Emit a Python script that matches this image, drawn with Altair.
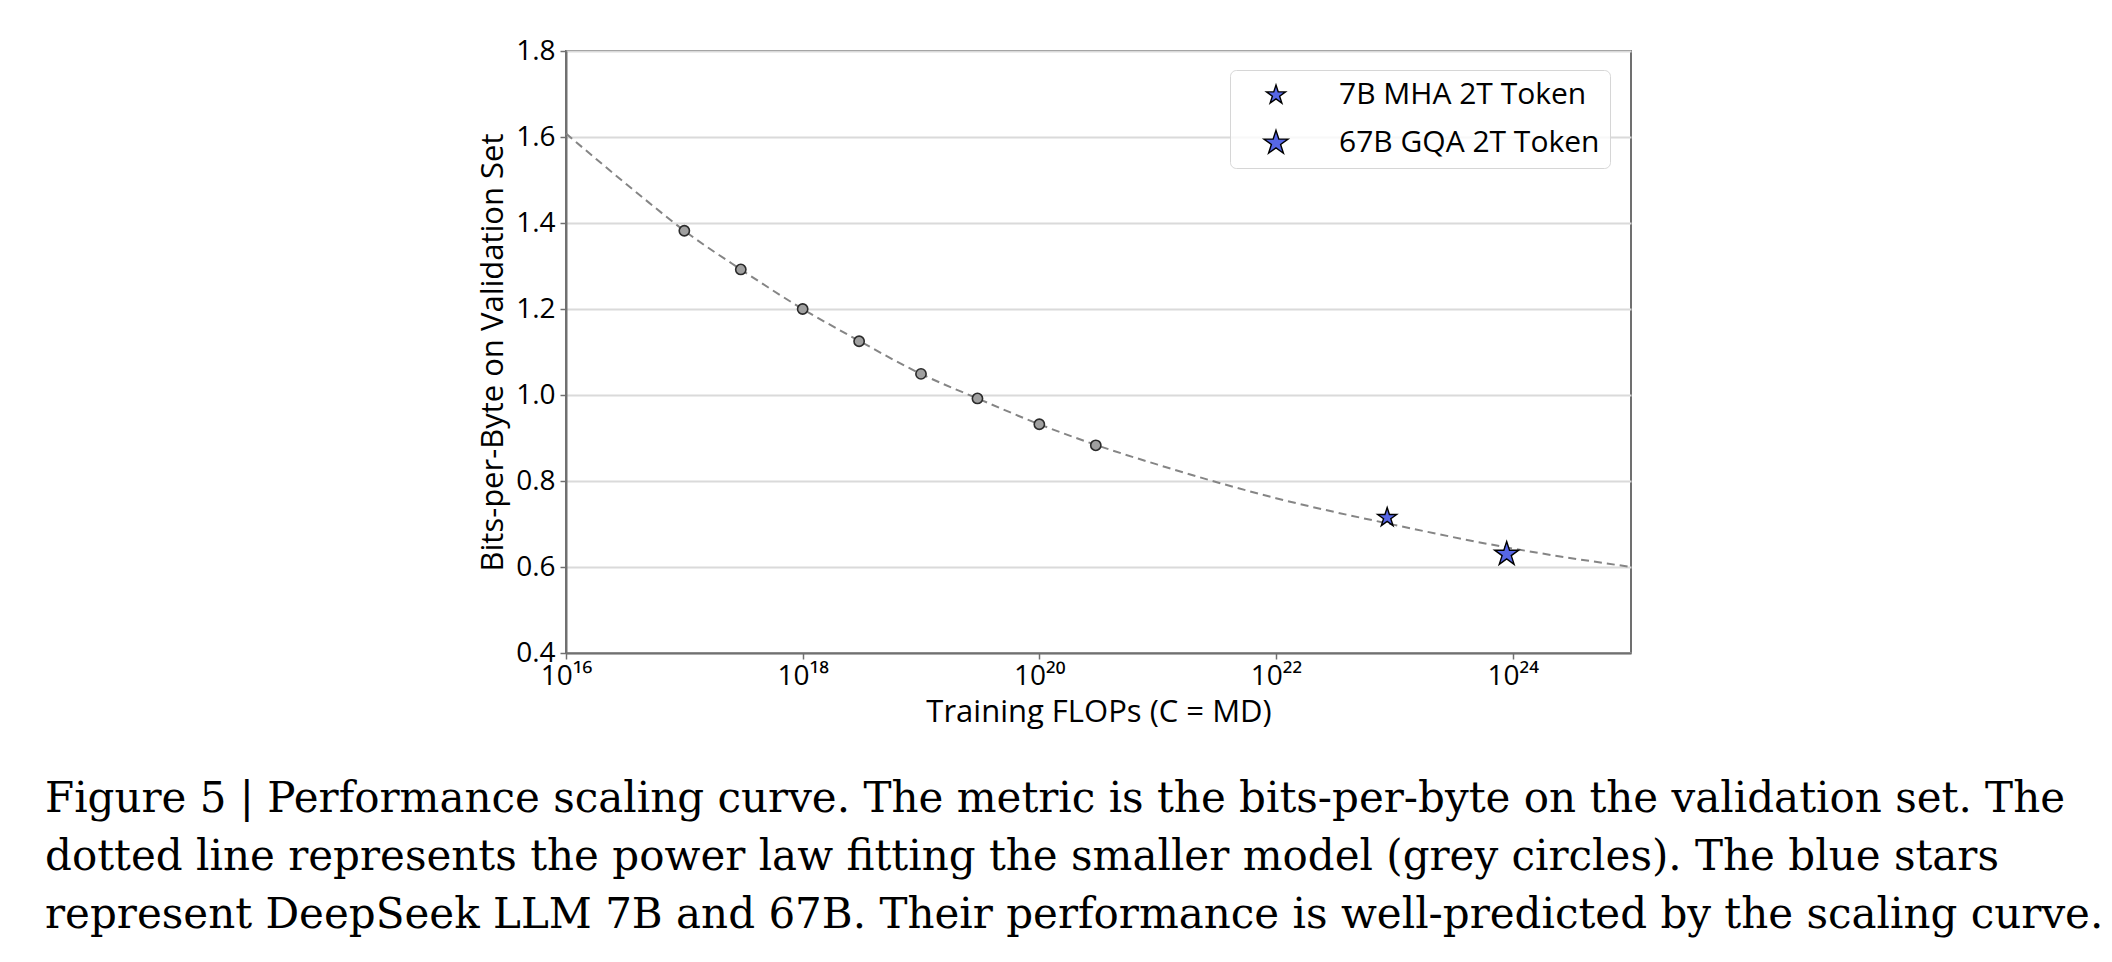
import json
import altair as alt
import pandas as pd

# ---------------- data ----------------
# dashed power-law fit
curve_flops = [1e16, 4.6e16, 1e17, 3e17, 1e18, 3e18, 1e19, 3e19, 1e20, 3e20,
               1e21, 1e22, 1e23, 1e24, 1e25]
curve_bpb = [1.608, 1.456, 1.382, 1.292, 1.200, 1.126, 1.049, 0.992, 0.932, 0.884,
             0.838, 0.760, 0.698, 0.643, 0.600]

# smaller models (grey circles)
small_flops = [1e17, 3e17, 1e18, 3e18, 1e19, 3e19, 1e20, 3e20]
small_bpb = [1.382, 1.292, 1.200, 1.125, 1.049, 0.992, 0.932, 0.883]

# DeepSeek LLM 7B / 67B (blue stars)
star_models = ["7B MHA 2T Token", "67B GQA 2T Token"]
star_flops = [8.7e22, 8.9e23]
star_bpb = [0.715, 0.630]

# axes
x_ticks = [1e16, 1e18, 1e20, 1e22, 1e24]
x_tick_labels = ["10¹⁶", "10¹⁸", "10²⁰", "10²²", "10²⁴"]
y_ticks = [0.4, 0.6, 0.8, 1.0, 1.2, 1.4, 1.6, 1.8]

x_title = "Training FLOPs (C = MD)"
y_title = "Bits-per-Byte on Validation Set"
caption_lines = [
    "Figure 5 | Performance scaling curve. The metric is the bits-per-byte on the validation set. The",
    "dotted line represents the power law fitting the smaller model (grey circles).  The blue stars",
    "represent DeepSeek LLM 7B and 67B. Their performance is well-predicted by the scaling curve.",
]

# ---------------- chart ----------------
STAR = ("M0,-1 L0.2245,-0.309 L0.9511,-0.309 L0.3633,0.118 L0.5878,0.809 "
        "L0,0.382 L-0.5878,0.809 L-0.3633,0.118 L-0.9511,-0.309 L-0.2245,-0.309 Z")
BLUE = "#5767e6"
FONT = "Open Sans"

curve_df = pd.DataFrame({"flops": curve_flops, "bpb": curve_bpb})
small_df = pd.DataFrame({"flops": small_flops, "bpb": small_bpb})
star_df = pd.DataFrame({"flops": star_flops, "bpb": star_bpb, "model": star_models})

label_expr = ("%s[(round(log(datum.value)/LN10) - 16) / 2]"
              % json.dumps(x_tick_labels, ensure_ascii=False))

x_enc = alt.X(
    "flops:Q",
    scale=alt.Scale(type="log", domain=[1e16, 1e25], nice=False),
    axis=alt.Axis(values=x_ticks, labelExpr=label_expr, grid=False,
                  title=x_title, labelFlush=False, labelOverlap=False,
                  labelPadding=3, titlePadding=7),
)
y_enc = alt.Y(
    "bpb:Q",
    scale=alt.Scale(domain=[0.4, 1.8], nice=False, zero=False),
    axis=alt.Axis(values=y_ticks, format=".1f", grid=True, title=y_title,
                  labelPadding=5, titlePadding=6),
)

curve = alt.Chart(curve_df).mark_line(
    color="#858585", strokeWidth=2, strokeDash=[8, 5], interpolate="monotone"
).encode(x=x_enc, y=y_enc)

circles = alt.Chart(small_df).mark_point(
    shape="circle", filled=True, size=105, fill="#a0a0a0", fillOpacity=1,
    stroke="#2b2b2b", strokeWidth=1.6, opacity=1
).encode(x="flops:Q", y="bpb:Q")

stars = alt.Chart(star_df).mark_point(
    filled=True, stroke="black", strokeWidth=1.4, fillOpacity=1, opacity=1
).encode(
    x="flops:Q",
    y="bpb:Q",
    color=alt.Color("model:N", title=None,
                    scale=alt.Scale(domain=star_models, range=[BLUE, BLUE])),
    shape=alt.Shape("model:N", title=None,
                    scale=alt.Scale(domain=star_models, range=[STAR, STAR])),
    size=alt.Size("model:N", title=None,
                  scale=alt.Scale(domain=star_models, range=[400, 640])),
)

chart = alt.layer(curve, circles, stars).properties(
    width=1065,
    height=602,
    background="white",
    padding={"left": 566, "top": 51, "right": 481, "bottom": 309},
    autosize=alt.AutoSizeParams(type="none"),
    title=alt.TitleParams(
        text=caption_lines, orient="bottom", anchor="start", frame="group",
        dx=-521, offset=52, font="DejaVu Serif", fontSize=42,
        fontWeight="normal", lineHeight=58, color="black", baseline="top",
    ),
).configure_view(
    stroke="#707070", strokeWidth=2
).configure_axis(
    labelFont=FONT, labelFontSize=28, labelColor="black",
    titleFont=FONT, titleFontSize=31, titleFontWeight="normal", titleColor="black",
    domainColor="#707070", domainWidth=2,
    tickColor="#707070", tickWidth=1.5, tickSize=6,
    gridColor="#dadada", gridWidth=2,
).configure_legend(
    orient="none", legendX=664, legendY=19,
    padding=10, symbolOffset=21, labelOffset=48, rowPadding=17,
    strokeColor="#d6d6d6", cornerRadius=6, fillColor="rgba(255,255,255,0.8)",
    labelFont=FONT, labelFontSize=30, labelColor="black", labelLimit=500,
    symbolStrokeColor="black", symbolStrokeWidth=1.4,
)

chart.save("out.html", embed_options={"renderer": "svg", "actions": False})
